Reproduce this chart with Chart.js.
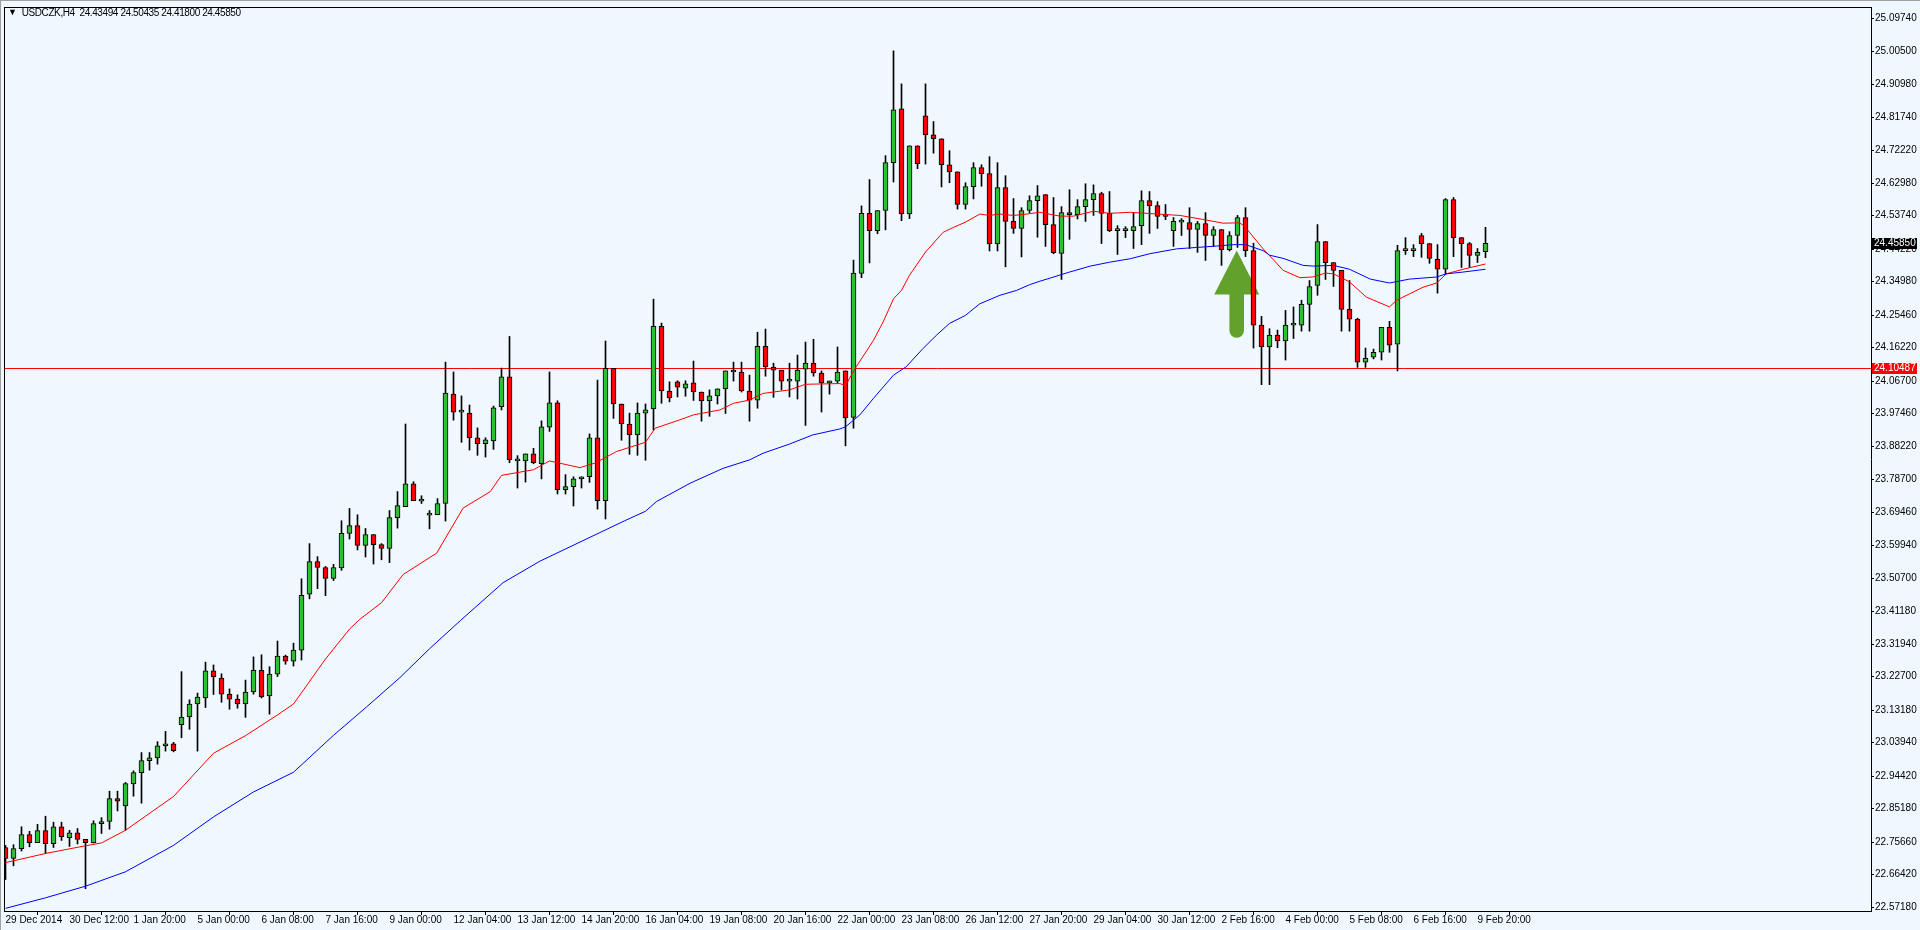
<!DOCTYPE html>
<html>
<head>
<meta charset="utf-8">
<title>USDCZK,H4</title>
<script src="https://cdn.jsdelivr.net/npm/chart.js@4.4.1/dist/chart.umd.min.js"></script>
<style>
    html, body { margin: 0; padding: 0; background: #f0f8ff; }
    #moldura { position: relative; width: 1920px; height: 930px; }
    #cabecalho { position: absolute; left: 8px; top: 6px; font: 10px 'Liberation Sans', Arial, sans-serif; letter-spacing: -0.4px; color: #000; white-space: pre; line-height: 13px; }
    #cabecalho .seta { font-size: 9px; position: relative; top: -1px; letter-spacing: 0; }
</style>
</head>
<body>
<div id="moldura">
    <canvas id="grafico" width="1920" height="930"></canvas>
    <div id="cabecalho"></div>
</div>
<script>
let simbolo = 'USDCZK,H4';

let aberturas = [
    22.741, 22.710, 22.738, 22.778, 22.755, 22.789, 22.752, 22.800, 22.769, 22.783,
    22.764, 22.754, 22.809, 22.815, 22.880, 22.859, 22.922, 22.954, 22.988, 22.996,
    23.030, 23.036, 23.090, 23.112, 23.149, 23.166, 23.243, 23.223, 23.177, 23.163,
    23.149, 23.183, 23.245, 23.172, 23.234, 23.285, 23.271, 23.302, 23.461, 23.554,
    23.537, 23.506, 23.536, 23.634, 23.656, 23.600, 23.631, 23.602, 23.591, 23.679,
    23.710, 23.775, 23.726, 23.686, 23.687, 23.719, 24.030, 23.979, 23.976, 23.906,
    23.889, 23.897, 23.994, 24.079, 23.840, 23.840, 23.860, 23.832, 23.936, 24.005,
    23.758, 23.767, 23.789, 23.795, 23.906, 23.727, 24.103, 24.002, 23.945, 23.914,
    23.976, 23.988, 24.223, 24.039, 24.065, 24.047, 24.062, 24.036, 24.011, 24.025,
    24.045, 24.093, 24.093, 24.039, 24.013, 24.166, 24.107, 24.098, 24.067, 24.067,
    24.101, 24.118, 24.090, 24.062, 24.067, 24.096, 23.964, 24.373, 24.544, 24.495,
    24.552, 24.688, 24.841, 24.542, 24.736, 24.821, 24.767, 24.756, 24.682, 24.662,
    24.569, 24.620, 24.674, 24.657, 24.457, 24.617, 24.521, 24.501, 24.552, 24.580,
    24.597, 24.512, 24.430, 24.546, 24.540, 24.563, 24.583, 24.600, 24.544, 24.495,
    24.495, 24.495, 24.509, 24.580, 24.566, 24.535, 24.495, 24.519, 24.518, 24.498,
    24.515, 24.481, 24.498, 24.441, 24.481, 24.532, 24.438, 24.226, 24.164, 24.198,
    24.181, 24.226, 24.226, 24.285, 24.339, 24.464, 24.404, 24.382, 24.271, 24.243,
    24.121, 24.135, 24.149, 24.220, 24.172, 24.438, 24.438, 24.481, 24.458, 24.413,
    24.385, 24.583, 24.475, 24.458, 24.424, 24.43494
];

let maximas = [
    22.747, 22.749, 22.800, 22.787, 22.807, 22.830, 22.813, 22.813, 22.790, 22.795,
    22.764, 22.817, 22.826, 22.901, 22.901, 22.926, 22.959, 23.011, 23.011, 23.042,
    23.071, 23.040, 23.241, 23.161, 23.180, 23.268, 23.260, 23.235, 23.192, 23.175,
    23.217, 23.283, 23.289, 23.255, 23.328, 23.288, 23.322, 23.505, 23.605, 23.568,
    23.540, 23.546, 23.670, 23.705, 23.687, 23.648, 23.631, 23.605, 23.699, 23.753,
    23.945, 23.781, 23.741, 23.699, 23.733, 24.121, 24.093, 24.025, 23.999, 23.934,
    23.906, 23.996, 24.104, 24.194, 23.855, 23.860, 23.876, 23.954, 24.093, 24.011,
    23.801, 23.795, 23.795, 23.917, 24.070, 24.181, 24.103, 24.002, 23.976, 24.005,
    24.002, 24.300, 24.232, 24.065, 24.068, 24.068, 24.124, 24.036, 24.042, 24.045,
    24.096, 24.121, 24.121, 24.084, 24.206, 24.215, 24.118, 24.098, 24.118, 24.141,
    24.178, 24.186, 24.096, 24.067, 24.164, 24.096, 24.411, 24.565, 24.640, 24.552,
    24.708, 25.006, 24.912, 24.736, 24.736, 24.912, 24.805, 24.756, 24.722, 24.662,
    24.631, 24.688, 24.682, 24.705, 24.688, 24.651, 24.586, 24.560, 24.594, 24.623,
    24.597, 24.589, 24.563, 24.611, 24.583, 24.628, 24.625, 24.604, 24.606, 24.509,
    24.506, 24.546, 24.608, 24.606, 24.577, 24.569, 24.532, 24.529, 24.560, 24.521,
    24.546, 24.506, 24.498, 24.492, 24.538, 24.560, 24.459, 24.251, 24.216, 24.212,
    24.268, 24.278, 24.297, 24.353, 24.512, 24.464, 24.404, 24.382, 24.353, 24.246,
    24.161, 24.158, 24.220, 24.237, 24.453, 24.475, 24.455, 24.487, 24.458, 24.455,
    24.586, 24.589, 24.475, 24.461, 24.444, 24.50435
];

let minimas = [
    22.650, 22.689, 22.731, 22.743, 22.755, 22.724, 22.741, 22.761, 22.744, 22.751,
    22.624, 22.754, 22.781, 22.793, 22.845, 22.790, 22.887, 22.867, 22.961, 22.978,
    23.015, 23.013, 23.053, 23.077, 23.015, 23.139, 23.176, 23.154, 23.134, 23.137,
    23.111, 23.177, 23.166, 23.120, 23.227, 23.262, 23.257, 23.274, 23.448, 23.477,
    23.457, 23.500, 23.529, 23.618, 23.587, 23.567, 23.547, 23.559, 23.551, 23.649,
    23.710, 23.727, 23.719, 23.647, 23.687, 23.669, 23.956, 23.893, 23.871, 23.856,
    23.851, 23.873, 23.985, 23.835, 23.763, 23.780, 23.832, 23.789, 23.924, 23.746,
    23.746, 23.712, 23.763, 23.779, 23.703, 23.675, 23.961, 23.899, 23.859, 23.856,
    23.842, 23.928, 24.004, 24.008, 24.022, 24.024, 24.012, 23.953, 23.967, 24.002,
    23.975, 24.067, 24.036, 23.953, 23.990, 24.081, 24.021, 24.042, 24.022, 24.016,
    23.941, 24.081, 23.979, 24.030, 24.062, 23.883, 23.933, 24.361, 24.403, 24.486,
    24.497, 24.633, 24.523, 24.529, 24.671, 24.684, 24.715, 24.619, 24.631, 24.556,
    24.556, 24.585, 24.621, 24.437, 24.437, 24.392, 24.487, 24.420, 24.546, 24.476,
    24.450, 24.429, 24.356, 24.470, 24.528, 24.521, 24.538, 24.458, 24.492, 24.427,
    24.475, 24.444, 24.455, 24.487, 24.501, 24.526, 24.450, 24.481, 24.444, 24.433,
    24.410, 24.450, 24.396, 24.437, 24.447, 24.421, 24.161, 24.057, 24.057, 24.162,
    24.127, 24.188, 24.209, 24.209, 24.311, 24.356, 24.336, 24.209, 24.209, 24.106,
    24.106, 24.130, 24.127, 24.149, 24.096, 24.427, 24.421, 24.419, 24.402, 24.317,
    24.370, 24.421, 24.390, 24.390, 24.404, 24.41800
];

let fechamentos = [
    22.710, 22.738, 22.778, 22.755, 22.789, 22.752, 22.800, 22.772, 22.783, 22.764,
    22.755, 22.809, 22.815, 22.880, 22.873, 22.923, 22.954, 22.988, 22.996, 23.030,
    23.036, 23.016, 23.112, 23.149, 23.169, 23.243, 23.226, 23.177, 23.163, 23.149,
    23.183, 23.245, 23.169, 23.234, 23.285, 23.271, 23.302, 23.458, 23.554, 23.537,
    23.506, 23.537, 23.634, 23.656, 23.600, 23.631, 23.602, 23.591, 23.679, 23.713,
    23.775, 23.727, 23.726, 23.686, 23.719, 24.033, 23.979, 23.979, 23.906, 23.889,
    23.900, 23.991, 24.079, 23.843, 23.840, 23.860, 23.835, 23.937, 24.005, 23.758,
    23.767, 23.789, 23.795, 23.906, 23.727, 24.103, 24.002, 23.945, 23.914, 23.976,
    23.985, 24.223, 24.039, 24.019, 24.050, 24.059, 24.036, 24.011, 24.025, 24.045,
    24.096, 24.093, 24.039, 24.013, 24.166, 24.107, 24.098, 24.067, 24.067, 24.098,
    24.118, 24.090, 24.062, 24.067, 24.093, 23.962, 24.374, 24.544, 24.495, 24.552,
    24.688, 24.838, 24.542, 24.736, 24.685, 24.767, 24.756, 24.682, 24.662, 24.569,
    24.620, 24.674, 24.657, 24.457, 24.617, 24.521, 24.501, 24.552, 24.580, 24.594,
    24.512, 24.432, 24.546, 24.540, 24.563, 24.583, 24.600, 24.544, 24.495, 24.495,
    24.495, 24.506, 24.580, 24.566, 24.535, 24.535, 24.521, 24.519, 24.498, 24.515,
    24.481, 24.498, 24.441, 24.481, 24.532, 24.438, 24.226, 24.164, 24.198, 24.181,
    24.226, 24.226, 24.285, 24.336, 24.464, 24.404, 24.382, 24.271, 24.243, 24.121,
    24.132, 24.149, 24.220, 24.169, 24.438, 24.438, 24.438, 24.458, 24.416, 24.385,
    24.583, 24.475, 24.458, 24.424, 24.433, 24.45850
];

// medias moveis (barra, preco)
let mediaVermelhaX = [0, 5, 10, 12, 15, 21, 26, 30, 34, 36, 40, 43, 44.3, 47, 49.7, 53.9, 57.2, 60.6, 62, 66, 68, 71.8, 73.7, 76.4, 80, 81.2, 84.3, 86, 89.3, 91, 93, 94.7, 98, 100, 104.3, 105, 106.2, 108.5, 109.7, 111, 112, 113, 115, 117.2, 118.5, 120, 121.8, 123, 124.3, 126, 127.7, 129.3, 131.8, 133.5, 136, 138, 140.6, 144.7, 146.8, 149.6, 152.2, 154.3, 155, 157.2, 158, 159.7, 161.8, 163.4, 165, 166, 168, 170.1, 173, 173.9, 175.5, 177.2, 178.9, 180.1, 182.2, 185];
let mediaVermelhaY = [22.698, 22.724, 22.746, 22.754, 22.790, 22.886, 23.009, 23.059, 23.118, 23.149, 23.277, 23.362, 23.390, 23.437, 23.517, 23.578, 23.706, 23.753, 23.799, 23.815, 23.840, 23.821, 23.834, 23.867, 23.893, 23.933, 23.957, 23.971, 23.985, 24.004, 24.013, 24.032, 24.042, 24.058, 24.060, 24.054, 24.103, 24.183, 24.235, 24.301, 24.325, 24.368, 24.434, 24.490, 24.504, 24.519, 24.542, 24.538, 24.542, 24.538, 24.542, 24.547, 24.536, 24.536, 24.550, 24.544, 24.547, 24.541, 24.538, 24.527, 24.516, 24.517, 24.504, 24.443, 24.424, 24.382, 24.361, 24.363, 24.374, 24.372, 24.349, 24.306, 24.278, 24.297, 24.315, 24.334, 24.346, 24.372, 24.385, 24.400];

let mediaAzulX = [0, 5, 10, 15, 21, 26, 31, 36, 41, 45.1, 49.3, 53, 56.9, 62.2, 66.8, 77.4, 80, 81.4, 85.6, 89.7, 93, 94.7, 98, 100.9, 104.3, 105, 106.8, 108.5, 111, 112.6, 114.7, 116.4, 118, 120, 121.8, 124.3, 126.4, 128, 129.3, 130.6, 133, 135.6, 138, 140.6, 143, 146.4, 148.9, 151.4, 153.5, 155, 157.2, 158, 159.7, 162.2, 163.5, 166, 168, 170.6, 173, 175.5, 178.9, 180.1, 182.2, 185];
let mediaAzulY = [22.568, 22.598, 22.631, 22.672, 22.747, 22.828, 22.899, 22.955, 23.060, 23.140, 23.224, 23.306, 23.387, 23.494, 23.555, 23.670, 23.697, 23.725, 23.777, 23.819, 23.843, 23.862, 23.888, 23.914, 23.931, 23.937, 23.971, 24.018, 24.084, 24.108, 24.160, 24.198, 24.231, 24.254, 24.287, 24.311, 24.325, 24.341, 24.351, 24.360, 24.377, 24.394, 24.405, 24.415, 24.429, 24.443, 24.447, 24.451, 24.455, 24.455, 24.438, 24.425, 24.416, 24.396, 24.394, 24.396, 24.385, 24.357, 24.346, 24.357, 24.363, 24.372, 24.377, 24.385];

let rotulosX = ['29 Dec 2014', '30 Dec 12:00', '1 Jan 20:00', '5 Jan 00:00', '6 Jan 08:00', '7 Jan 16:00', '9 Jan 00:00', '12 Jan 04:00', '13 Jan 12:00', '14 Jan 20:00', '16 Jan 04:00', '19 Jan 08:00', '20 Jan 16:00', '22 Jan 00:00', '23 Jan 08:00', '26 Jan 12:00', '27 Jan 20:00', '29 Jan 04:00', '30 Jan 12:00', '2 Feb 16:00', '4 Feb 00:00', '5 Feb 08:00', '6 Feb 16:00', '9 Feb 20:00'];
let barrasPorRotulo = 8;

let ticksY = [25.09740, 25.00500, 24.90980, 24.81740, 24.72220, 24.62980, 24.53740, 24.44220, 24.34980, 24.25460, 24.16220, 24.06700, 23.97460, 23.88220, 23.78700, 23.69460, 23.59940, 23.50700, 23.41180, 23.31940, 23.22700, 23.13180, 23.03940, 22.94420, 22.85180, 22.75660, 22.66420, 22.57180];

let linhaHorizontal = 24.10487;

const VERDE = 'rgb(50, 190, 50)';
const VERMELHO = '#ff0000';
const FUNDO = '#f0f8ff';
const FONTE = "'Liberation Sans', Arial, sans-serif";

document.addEventListener('DOMContentLoaded', (event) => {
    montarCabecalho();
    renderizarGrafico();
});

function montarCabecalho() {
    let u = aberturas.length - 1;
    let valores = [aberturas[u], maximas[u], minimas[u], fechamentos[u]].map(v => v.toFixed(5)).join(' ');
    document.getElementById('cabecalho').innerHTML = `<span class="seta">&#9660;</span>  ${simbolo}  ${valores}`;
}

// seta verde, linha horizontal e caixas de preco no eixo
const extrasMT4 = {
    id: 'extrasMT4',
    beforeDraw(chart) {
        let ctx = chart.ctx;
        ctx.save();
        ctx.fillStyle = FUNDO;
        ctx.fillRect(0, 0, chart.width, chart.height);
        ctx.fillStyle = '#a0a0a0';
        ctx.fillRect(0, 0, chart.width, 1);
        ctx.fillRect(0, 0, 1, chart.height);
        ctx.restore();
    },
    beforeDatasetsDraw(chart) {
        let ctx = chart.ctx;
        let area = chart.chartArea;
        let xs = chart.scales.x;
        let ys = chart.scales.y;
        ctx.save();

        let yl = Math.round(ys.getPixelForValue(linhaHorizontal)) + 0.5;
        ctx.strokeStyle = VERMELHO;
        ctx.lineWidth = 1;
        ctx.beginPath();
        ctx.moveTo(area.left, yl);
        ctx.lineTo(area.right, yl);
        ctx.stroke();

        let xc = xs.getPixelForValue(153.9);
        let yPonta = ys.getPixelForValue(24.438);
        let yBase = ys.getPixelForValue(24.313);
        let yCauda = ys.getPixelForValue(24.190);
        let meiaCabeca = 22.5, meiaHaste = 7.3;
        ctx.fillStyle = '#62a12b';
        ctx.beginPath();
        ctx.moveTo(xc, yPonta);
        ctx.lineTo(xc + meiaCabeca, yBase);
        ctx.lineTo(xc + meiaHaste, yBase);
        ctx.lineTo(xc + meiaHaste, yCauda - meiaHaste);
        ctx.arc(xc, yCauda - meiaHaste, meiaHaste, 0, Math.PI);
        ctx.lineTo(xc - meiaHaste, yBase);
        ctx.lineTo(xc - meiaCabeca, yBase);
        ctx.closePath();
        ctx.fill();
        ctx.restore();
    },
    afterDraw(chart) {
        let ctx = chart.ctx;
        let area = chart.chartArea;
        let ys = chart.scales.y;
        ctx.save();
        ctx.fillStyle = '#000';
        ctx.fillRect(area.left, area.top, area.right - area.left, 1);
        ctx.fillRect(area.left, area.top, 1, area.bottom - area.top);

        function caixaPreco(valor, cor) {
            let y = Math.round(ys.getPixelForValue(valor));
            ctx.fillStyle = cor;
            ctx.fillRect(area.right + 1, y - 5, 45, 11);
            ctx.fillStyle = '#fff';
            ctx.font = '10px ' + FONTE;
            ctx.textAlign = 'left';
            ctx.textBaseline = 'middle';
            ctx.fillText(valor.toFixed(5), area.right + 3, y + 0.5);
        }
        caixaPreco(fechamentos[fechamentos.length - 1], '#000');
        caixaPreco(linhaHorizontal, VERMELHO);
        ctx.restore();
    }
};

function renderizarGrafico() {
    let ctx = document.getElementById('grafico').getContext('2d');

    let pavios = aberturas.map((o, i) => ({ x: i, y: [minimas[i], maximas[i]] }));
    let corpos = aberturas.map((o, i) => ({ x: i, y: [o, fechamentos[i]] }));
    let mediaVermelha = mediaVermelhaX.map((x, i) => ({ x: x, y: mediaVermelhaY[i] }));
    let mediaAzul = mediaAzulX.map((x, i) => ({ x: x, y: mediaAzulY[i] }));

    let data = {
        datasets: [
            {
                type: 'bar',
                data: pavios,
                backgroundColor: '#000',
                barThickness: 1,
                minBarLength: 1,
                grouped: false,
                order: 3
            },
            {
                type: 'bar',
                data: corpos,
                backgroundColor: (c) => {
                    let i = c.dataIndex;
                    if (i === undefined) return VERDE;
                    return fechamentos[i] >= aberturas[i] ? VERDE : VERMELHO;
                },
                borderColor: '#000',
                borderWidth: 1,
                borderSkipped: false,
                barThickness: 5,
                minBarLength: 2,
                grouped: false,
                order: 2
            },
            {
                type: 'line',
                data: mediaVermelha,
                borderColor: '#ff0000',
                borderWidth: 1,
                pointRadius: 0,
                tension: 0,
                order: 1
            },
            {
                type: 'line',
                data: mediaAzul,
                borderColor: '#0000ff',
                borderWidth: 1,
                pointRadius: 0,
                tension: 0,
                order: 0
            }
        ]
    };

    let options = {
        responsive: false,
        animation: false,
        events: [],
        devicePixelRatio: 1,
        layout: { padding: { left: 4, top: 4, right: 0, bottom: 0 } },
        plugins: {
            legend: { display: false },
            tooltip: { enabled: false }
        },
        scales: {
            x: {
                type: 'linear',
                min: -0.1875,
                max: 233.1875,
                offset: false,
                grid: { drawOnChartArea: false, drawTicks: true, tickLength: 4, color: '#000' },
                border: { display: true, color: '#000' },
                ticks: {
                    autoSkip: false,
                    maxRotation: 0,
                    align: 'start',
                    padding: -1,
                    color: '#000',
                    font: { family: FONTE, size: 10 },
                    callback: (v) => rotulosX[Math.round(v / barrasPorRotulo)]
                },
                afterBuildTicks: (s) => {
                    s.ticks = rotulosX.map((r, k) => ({ value: k * barrasPorRotulo }));
                },
                afterFit: (s) => { s.height = 19; }
            },
            y: {
                position: 'right',
                min: 22.5605,
                max: 25.1306,
                grid: { drawOnChartArea: false, drawTicks: true, tickLength: 3, color: '#000' },
                border: { display: true, color: '#000' },
                ticks: {
                    autoSkip: false,
                    padding: 1,
                    color: '#000',
                    font: { family: FONTE, size: 10 },
                    callback: (v) => Number(v).toFixed(5)
                },
                afterBuildTicks: (s) => {
                    s.ticks = ticksY.map(v => ({ value: v }));
                },
                afterFit: (s) => { s.width = 49; }
            }
        }
    };

    new Chart(ctx, {
        type: 'bar',
        data: data,
        options: options,
        plugins: [extrasMT4]
    });
}
</script>
</body>
</html>
